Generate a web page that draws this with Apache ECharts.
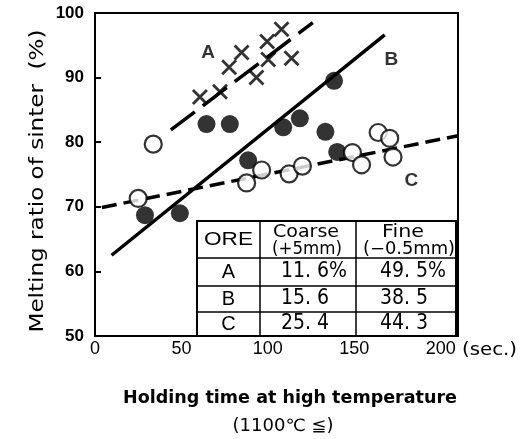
<!DOCTYPE html>
<html><head><meta charset="utf-8">
<script src="https://cdn.jsdelivr.net/npm/echarts@6/dist/echarts.min.js"></script>
<style>html,body{margin:0;padding:0;background:#fff}#c{width:526px;height:439px}</style>
</head><body><div id="c"></div>
<script>
// ---- data ----
const xTickLabels = [0, 50, 100, 150, 200];
const yTickLabels = [50, 60, 70, 80, 90, 100];
const oreA = [[60.7,87.0],[72.3,87.8],[77.6,91.6],[84.8,93.9],[93.4,90.0],[99.6,95.6],[107.9,97.5],[100.2,92.8],[113.7,93.0]];
const oreB = [[28.9,68.7],[49.1,69.0],[64.5,82.8],[78.0,82.8],[88.6,77.2],[108.9,82.3],[118.5,83.7],[133.3,81.6],[138.3,89.5],[140.1,78.5]];
const oreC = [[25.0,71.3],[33.7,79.7],[87.7,73.7],[96.4,75.7],[112.3,75.1],[120.0,76.3],[148.9,78.4],[154.2,76.5],[163.8,81.5],[170.5,80.6],[172.4,77.7]];
const lineA = [[43.9,81.9],[126.0,98.5]];
const lineB = [[9.6,62.5],[167.6,96.6]];
const lineC = [[4.0,69.9],[210.0,81.0]];
const curveLabels = [["A",65.5,93.8],["B",171.5,92.8],["C",183.0,74.1]];
const tableHeader = ["ORE", "Coarse", "(+5mm)", "Fine", "(−0.5mm)"];
const tableOre = ["A", "B", "C"];
const tableCoarse = ["11. 6%", "15. 6", "25. 4"];
const tableFine = ["49. 5%", "38. 5", "44. 3"];

const NARROW = "'DejaVu Sans Condensed','Liberation Sans',sans-serif";
const SANS = "'Liberation Sans',Arial,sans-serif";
const WIDE = "'DejaVu Sans','Liberation Sans',sans-serif";

const mctx = document.createElement('canvas').getContext('2d');
function fitScale(text, font, target){ mctx.font = font; const w = mctx.measureText(text).width; return w > 0 ? target / w : 1; }

const chart = echarts.init(document.getElementById('c'), null, {renderer: 'canvas'});

// table geometry (layout only)
const tL = 197, tT = 221, tR = 456, tB = 336;
const colX = [tL, 260, 356, tR];
const rowY = [tT, 258, 286, 312, tB];
const tableEls = [];
tableEls.push({type:'rect', shape:{x:tL, y:tT, width:tR-tL, height:tB-tT}, style:{fill:'#fff', stroke:'#000', lineWidth:2}, z:100});
[colX[1], colX[2]].forEach(x => tableEls.push({type:'line', shape:{x1:x,y1:tT,x2:x,y2:tB}, style:{stroke:'#000', lineWidth:1.5}, z:101}));
[rowY[1], rowY[2], rowY[3]].forEach(y => tableEls.push({type:'line', shape:{x1:tL,y1:y,x2:tR,y2:y}, style:{stroke:'#000', lineWidth:1.5}, z:101}));
function txt(s, x, y, size, align, family, weight, width, rot){
  const font = (weight||'normal')+' '+size+'px '+(family||SANS);
  const el = {type:'text', x:x, y:y, z:102, style:{text:s, fill:'#000', font:font, textAlign:align||'center', textVerticalAlign:'middle'}};
  if (width) { el.scaleX = fitScale(s, font, width); }
  if (rot) { el.rotation = rot; }
  return el;
}
tableEls.push(txt(tableHeader[0], 228.5, 240, 18, 'center', SANS, 'normal', 49));
tableEls.push(txt(tableHeader[1], 306, 233, 17, 'center', WIDE, 'normal', 66));
tableEls.push(txt(tableHeader[2], 307, 250, 17, 'center', WIDE, 'normal', 70));
tableEls.push(txt(tableHeader[3], 403, 233, 17, 'center', WIDE, 'normal', 42));
tableEls.push(txt(tableHeader[4], 409, 250, 17, 'center', WIDE, 'normal', 92));
const rowMid = [272, 299, 324];
tableOre.forEach((s,i) => tableEls.push(txt(s, 228.5, rowMid[i], 20)));
tableCoarse.forEach((s,i) => tableEls.push(txt(s, 281, rowMid[i], 21, 'left', NARROW)));
tableFine.forEach((s,i) => tableEls.push(txt(s, 380, rowMid[i], 21, 'left', NARROW)));

const graphics = tableEls.concat([
  txt('Melting ratio of sinter  (%)', 38, 181, 19, 'center', WIDE, 'normal', 303, Math.PI/2),
  txt('(sec.)', 462, 350, 18, 'left', WIDE, 'normal', 55),
  txt('Holding time at high temperature', 290, 399, 17, 'center', WIDE, 'bold', 334),
  txt('(1100℃ ≦)', 283, 427, 17, 'center', WIDE, 'normal', 101)
]);

const option = {
  animation: false,
  backgroundColor: '#fff',
  grid: {left:95, top:13, width:363, height:323, show:true, borderColor:'#000', borderWidth:2, backgroundColor:'transparent'},
  xAxis: {
    type:'value', min:0, max:210, interval:50,
    axisLine:{show:true, onZero:false, lineStyle:{color:'#000', width:2}},
    axisTick:{show:false},
    splitLine:{show:false},
    axisLabel:{margin:4, color:'#000', fontSize:18, fontFamily:SANS,
      formatter: v => xTickLabels.indexOf(v) >= 0 ? String(v) : ''}
  },
  yAxis: {
    type:'value', min:50, max:100, interval:10,
    axisLine:{show:true, lineStyle:{color:'#000', width:2}},
    axisTick:{show:true, inside:true, length:6, lineStyle:{color:'#000', width:2}},
    splitLine:{show:false},
    axisLabel:{margin:11, color:'#000', fontSize:17, fontWeight:'bold', fontFamily:SANS,
      formatter: v => yTickLabels.indexOf(v) >= 0 ? String(v) : ''}
  },
  graphic: graphics,
  series: [
    {type:'line', data:lineA, symbol:'none', z:2, lineStyle:{color:'#000', width:3.5, type:[30,10]}},
    {type:'line', data:lineB, symbol:'none', z:2, lineStyle:{color:'#000', width:3.5, type:'solid'}},
    {type:'line', data:lineC, symbol:'none', z:2, lineStyle:{color:'#000', width:3.5, type:[15,7]}},
    {type:'scatter', data:oreA, z:3, symbol:'path://M0,0L12,12M12,0L0,12', symbolSize:14,
      itemStyle:{color:'rgba(0,0,0,0)', borderColor:'#000', borderWidth:2.8}},
    {type:'scatter', data:oreB, z:3, symbol:'circle', symbolSize:18, itemStyle:{color:'#000'}},
    {type:'scatter', data:oreC, z:4, symbol:'circle', symbolSize:17, itemStyle:{color:'#fff', borderColor:'#000', borderWidth:2.2}},
    {type:'scatter', data:curveLabels.map(d => [d[1], d[2], d[0]]), z:5, symbolSize:0,
      label:{show:true, position:'inside', formatter: p => p.data[2], color:'#000', fontSize:19, fontWeight:'bold', fontFamily:SANS}}
  ]
};
chart.setOption(option);
</script>
</body></html>
